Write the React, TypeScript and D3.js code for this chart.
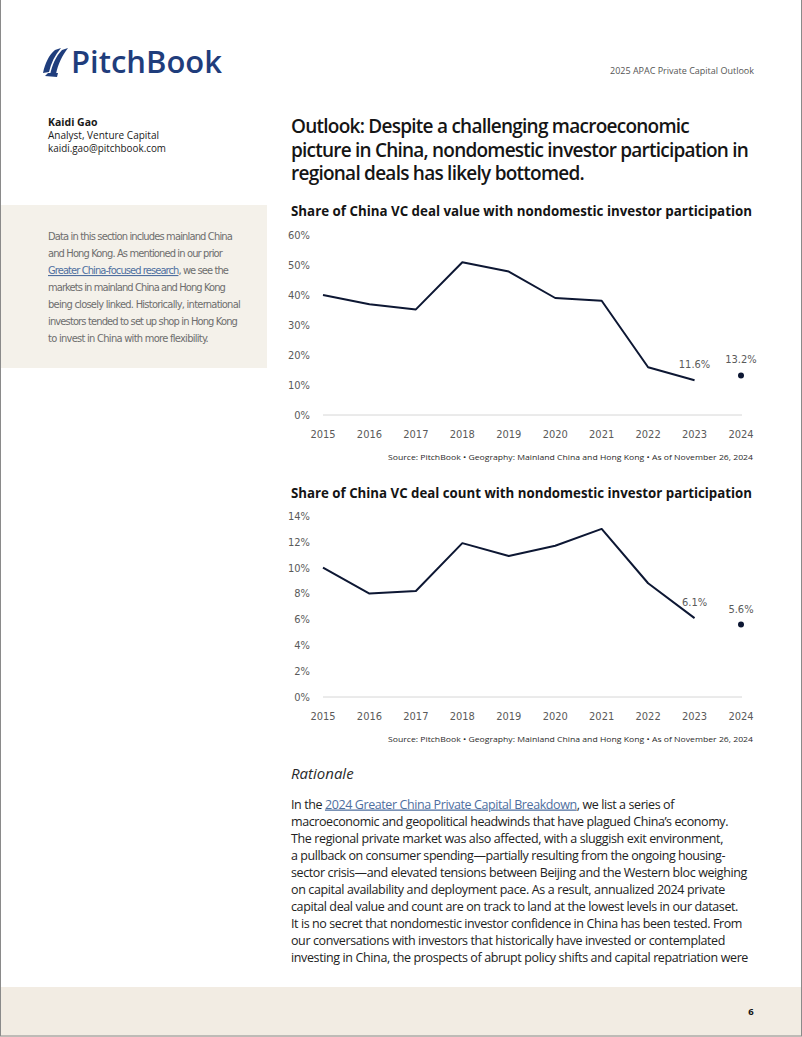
import React, { useRef, useLayoutEffect } from "react";
import * as d3 from "d3";

// chart data
const years = ["2015", "2016", "2017", "2018", "2019", "2020", "2021", "2022", "2023", "2024"];
const dealValueShare = [40.0, 36.9, 35.2, 50.9, 47.8, 39.0, 38.1, 15.9, 11.6, 13.2];
const dealCountShare = [10.0, 8.0, 8.2, 11.9, 10.9, 11.7, 13.0, 8.8, 6.1, 5.6];
const valueTicks = [0, 10, 20, 30, 40, 50, 60];
const countTicks = [0, 2, 4, 6, 8, 10, 12, 14];
const sourceNote =
  "Source: PitchBook  \u2022  Geography: Mainland China and Hong Kong  \u2022  As of November 26, 2024";

// text lines: parts (link flag) and the width they take in the reference
type Part = { t: string; link?: boolean };
type Line = { parts: Part[]; w: number };

const headingLines: Line[] = [
  { parts: [{ t: "Outlook: Despite a challenging macroeconomic" }], w: 398 },
  { parts: [{ t: "picture in China, nondomestic investor participation in" }], w: 457 },
  { parts: [{ t: "regional deals has likely bottomed." }], w: 293 },
];

const sidebarLines: Line[] = [
  { parts: [{ t: "Data in this section includes mainland China" }], w: 184 },
  { parts: [{ t: "and Hong Kong. As mentioned in our prior" }], w: 174 },
  { parts: [{ t: "Greater China-focused research", link: true }, { t: ", we see the" }], w: 180 },
  { parts: [{ t: "markets in mainland China and Hong Kong" }], w: 177 },
  { parts: [{ t: "being closely linked. Historically, international" }], w: 192 },
  { parts: [{ t: "investors tended to set up shop in Hong Kong" }], w: 189 },
  { parts: [{ t: "to invest in China with more flexibility." }], w: 160 },
];

const bodyLines: Line[] = [
  {
    parts: [
      { t: "In the " },
      { t: "2024 Greater China Private Capital Breakdown", link: true },
      { t: ", we list a series of" },
    ],
    w: 383,
  },
  { parts: [{ t: "macroeconomic and geopolitical headwinds that have plagued China\u2019s economy." }], w: 437 },
  { parts: [{ t: "The regional private market was also affected, with a sluggish exit environment," }], w: 432 },
  { parts: [{ t: "a pullback on consumer spending\u2014partially resulting from the ongoing housing-" }], w: 434 },
  { parts: [{ t: "sector crisis\u2014and elevated tensions between Beijing and the Western bloc weighing" }], w: 456 },
  { parts: [{ t: "on capital availability and deployment pace. As a result, annualized 2024 private" }], w: 434 },
  { parts: [{ t: "capital deal value and count are on track to land at the lowest levels in our dataset." }], w: 447 },
  { parts: [{ t: "It is no secret that nondomestic investor confidence in China has been tested. From" }], w: 451 },
  { parts: [{ t: "our conversations with investors that historically have invested or contemplated" }], w: 434 },
  { parts: [{ t: "investing in China, the prospects of abrupt policy shifts and capital repatriation were" }], w: 457 },
];

const SANS = "'Open Sans', 'Noto Sans', sans-serif";
const NARROW = "'Liberation Sans Narrow', 'DejaVu Sans Condensed', sans-serif";
const NAVY = "#0d1733";
const LINK = "#4f6f9f";

// one text line, letter-spaced so it spans the same width as in the reference
function FitLine({ line, x, y }: { line: Line; x: number; y: number }) {
  const ref = useRef<SVGTextElement>(null);
  useLayoutEffect(() => {
    const el = ref.current;
    if (!el) return;
    el.style.letterSpacing = "0px";
    const len = el.getComputedTextLength();
    const n = (el.textContent || "").length;
    if (n > 1) el.style.letterSpacing = `${(line.w - len) / n}px`;
  }, [line]);
  return (
    <text ref={ref} x={x} y={y}>
      {line.parts.map((p, i) => (
        <tspan key={i} fill={p.link ? LINK : undefined}
          textDecoration={p.link ? "underline" : undefined}>
          {p.t}
        </tspan>
      ))}
    </text>
  );
}

type ChartProps = {
  title: string;
  values: number[];
  ticks: number[];
  titleY: number;
  baseY: number;
  topY: number;
};

function LineChart({ title, values, ticks, titleY, baseY, topY }: ChartProps) {
  const x = d3.scalePoint<string>().domain(years).range([323, 741]);
  const y = d3
    .scaleLinear()
    .domain([0, ticks[ticks.length - 1]])
    .range([baseY, topY]);

  const pts = years.map((yr, i) => ({ yr, v: values[i] }));
  const linePts = pts.slice(0, pts.length - 1);
  const last = pts[pts.length - 1];
  const prev = pts[pts.length - 2];

  const line = d3
    .line<{ yr: string; v: number }>()
    .x((d) => x(d.yr) || 0)
    .y((d) => y(d.v));

  return (
    <g>
      <text x={291} y={titleY} fontFamily={SANS} fontWeight={700} fontSize={14.5} fill="#141414"
        textLength={461} lengthAdjust="spacingAndGlyphs">
        {title}
      </text>
      {ticks.map((t) => (
        <text key={t} x={310} y={y(t)} dy="0.35em" textAnchor="end" fontFamily={NARROW}
          fontSize={11} fill="#5a5a5a">
          {t}%
        </text>
      ))}
      <line x1={323} x2={742} y1={baseY} y2={baseY} stroke="#d6d6d6" strokeWidth={1} />
      {years.map((yr) => (
        <text key={yr} x={x(yr)} y={baseY + 23} textAnchor="middle" fontFamily={NARROW}
          fontSize={11} fill="#5a5a5a">
          {yr}
        </text>
      ))}
      <path d={line(linePts) || ""} fill="none" stroke={NAVY} strokeWidth={2}
        strokeLinejoin="round" />
      <circle cx={x(last.yr)} cy={y(last.v)} r={3} fill={NAVY} />
      <text x={x(prev.yr)} y={y(prev.v) - 12} textAnchor="middle" fontFamily={NARROW}
        fontSize={11} fill="#5a5a5a">
        {prev.v.toFixed(1)}%
      </text>
      <text x={x(last.yr)} y={y(last.v) - 12} textAnchor="middle" fontFamily={NARROW}
        fontSize={11} fill="#5a5a5a">
        {last.v.toFixed(1)}%
      </text>
      <text x={388} y={baseY + 45} fontFamily={SANS} fontSize={8} fill="#2a2a2a"
        textLength={365} lengthAdjust="spacingAndGlyphs">
        {sourceNote}
      </text>
    </g>
  );
}

export default function App() {
  return (
    <svg width={802} height={1037} style={{ position: "absolute", left: 0, top: 0 }}
      xmlns="http://www.w3.org/2000/svg">
      <rect x={0} y={0} width={802} height={1037} fill="#ffffff" />

      {/* logo */}
      <g fill="#1f3d7c">
        <path d="M43,73 C45,63 49,55 55,50 L61,48 C55,55 51,63 49,72 Z" />
        <path d="M50,75 C52,65 56,56 62,50 L68,48 C62,56 58,64 56,74 Z" />
        <path d="M45,76 L57,77 L58,73 L48,73 Z" />
        <text x={71} y={73} fontFamily={SANS} fontWeight={600} fontSize={31}
          textLength={151} lengthAdjust="spacingAndGlyphs">
          PitchBook
        </text>
      </g>
      <text x={754} y={74} textAnchor="end" fontFamily={SANS} fontSize={9} fill="#555">
        2025 APAC Private Capital Outlook
      </text>

      {/* author */}
      <g fontFamily={SANS} fontSize={10.5} fill="#1a1a1a">
        <text x={48} y={126} fontWeight={700}>Kaidi Gao</text>
        <text x={48} y={139} textLength={111} lengthAdjust="spacingAndGlyphs">Analyst, Venture Capital</text>
        <text x={48} y={152} textLength={118} lengthAdjust="spacingAndGlyphs">kaidi.gao@pitchbook.com</text>
      </g>

      {/* sidebar */}
      <rect x={0} y={205} width={267} height={163} fill="#f4f1ea" />
      <g fontFamily={NARROW} fontSize={11} fill="#6e6e6e">
        {sidebarLines.map((l, i) => (
          <FitLine key={i} line={l} x={48} y={240 + i * 17} />
        ))}
      </g>

      {/* heading */}
      <g fontFamily={SANS} fontWeight={600} fontSize={19} fill="#151515">
        {headingLines.map((l, i) => (
          <FitLine key={i} line={l} x={291} y={133 + i * 23.5} />
        ))}
      </g>

      <LineChart
        title="Share of China VC deal value with nondomestic investor participation"
        values={dealValueShare}
        ticks={valueTicks}
        titleY={215.5}
        baseY={415}
        topY={235}
      />
      <LineChart
        title="Share of China VC deal count with nondomestic investor participation"
        values={dealCountShare}
        ticks={countTicks}
        titleY={498}
        baseY={697}
        topY={516}
      />

      {/* body */}
      <text x={291} y={779} fontFamily={SANS} fontStyle="italic" fontSize={15} fill="#2a2a2a">
        Rationale
      </text>
      <g fontFamily={SANS} fontSize={12.5} fill="#222">
        {bodyLines.map((l, i) => (
          <FitLine key={i} line={l} x={291} y={808.5 + i * 17.1} />
        ))}
      </g>

      {/* footer */}
      <rect x={0} y={987} width={802} height={50} fill="#f2ece3" />
      <text x={751} y={1015} textAnchor="middle" fontFamily={SANS} fontWeight={700} fontSize={9.5}
        fill="#111">
        6
      </text>
      <rect x={0.5} y={-1} width={801} height={1037} fill="none" stroke="#8a8a8a" strokeWidth={1} />
    </svg>
  );
}
